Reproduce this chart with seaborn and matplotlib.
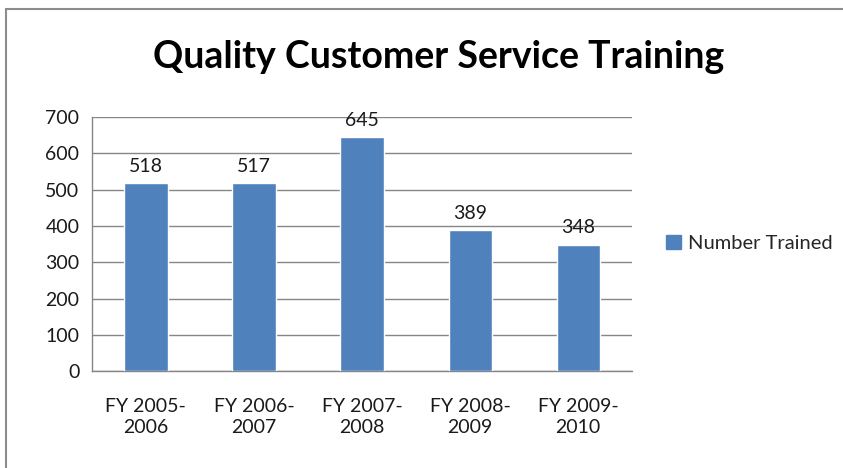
import pandas as pd
import matplotlib
matplotlib.use("Agg")
import matplotlib.pyplot as plt
import seaborn as sns
from matplotlib.patches import Rectangle, Patch

# data
categories = ["FY 2005-\n2006", "FY 2006-\n2007", "FY 2007-\n2008", "FY 2008-\n2009", "FY 2009-\n2010"]
number_trained = [518, 517, 645, 389, 348]
y_ticks = [0, 100, 200, 300, 400, 500, 600, 700]

df = pd.DataFrame({"Year": categories, "Number Trained": number_trained})

sns.set_style("white")
plt.rcParams["font.family"] = ["Lato", "DejaVu Sans"]

bar_color = "#4F81BD"
grid_color = "#868686"
text_color = "#1a1a1a"

fig = plt.figure(figsize=(8.43, 4.68), dpi=100)
ax = fig.add_axes([0.109, 0.207, 0.641, 0.543])

sns.barplot(data=df, x="Year", y="Number Trained", color=bar_color,
            width=0.4, saturation=1, ax=ax, zorder=3)

ax.set_ylim(0, 700)
ax.set_yticks(y_ticks)
ax.set_xlim(-0.5, len(categories) - 0.5)
ax.yaxis.grid(True, color=grid_color, linewidth=1, zorder=0)
ax.set_axisbelow(True)

for side in ["top", "right"]:
    ax.spines[side].set_visible(False)
for side in ["left", "bottom"]:
    ax.spines[side].set_color(grid_color)
    ax.spines[side].set_linewidth(1)

# category separators as tick marks, like the original
ax.set_xticks([i + 0.5 for i in range(-1, len(categories))], minor=True)
ax.tick_params(axis="x", which="minor", length=6, color=grid_color, width=1)
ax.tick_params(axis="x", which="major", length=0, labelsize=14, pad=19, colors=text_color)
ax.tick_params(axis="y", length=6, color=grid_color, width=1, labelsize=14, pad=3, colors=text_color)
for lbl in ax.get_xticklabels():
    lbl.set_linespacing(1.3)
ax.set_xlabel("")
ax.set_ylabel("")

for c in ax.containers:
    ax.bar_label(c, labels=[str(v) for v in number_trained], padding=6,
                 fontsize=14, color=text_color)

fig.text(0.52, 0.878, "Quality Customer Service Training", ha="center", va="center",
         fontsize=27, fontweight="bold", color="black")

fig.legend(handles=[Patch(color=bar_color, label="Number Trained")],
           loc="center left", bbox_to_anchor=(0.768, 0.48), frameon=False,
           fontsize=14.5, handlelength=0.75, handleheight=0.75, handletextpad=0.35)

# outer chart border
fig.patches.append(Rectangle((6 / 843, -0.1), 2, 1 - 9 / 468 + 0.1,
                             transform=fig.transFigure, fill=False,
                             edgecolor="#8c8c8c", linewidth=1.5))

fig.savefig("out.png", dpi=100)
